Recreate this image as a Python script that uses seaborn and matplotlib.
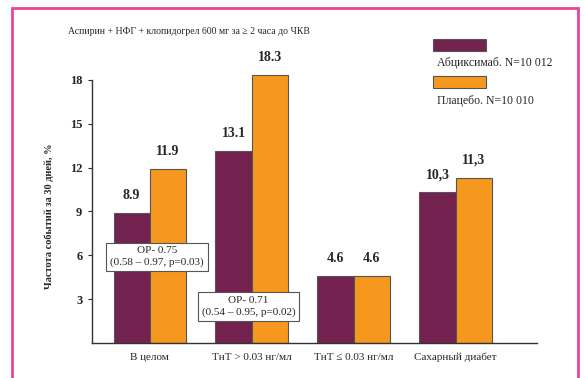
import matplotlib
matplotlib.use("Agg")
import matplotlib.pyplot as plt
import seaborn as sns
import pandas as pd
from matplotlib.patches import Rectangle

# data
categories = ["В целом", "ТнТ > 0.03 нг/мл", "ТнТ ≤ 0.03 нг/мл", "Сахарный диабет"]
abciximab = [8.9, 13.1, 4.6, 10.3]
placebo = [11.9, 18.3, 4.6, 11.3]
abciximab_labels = ["8.9", "13.1", "4.6", "10,3"]
placebo_labels = ["11.9", "18.3", "4.6", "11,3"]
series_names = ["Абциксимаб. N=10 012", "Плацебо. N=10 010"]
yticks = [3, 6, 9, 12, 15, 18]
or_texts = ["ОР- 0.75\n(0.58 – 0.97, p=0.03)", "ОР- 0.71\n(0.54 – 0.95, p=0.02)"]
title = "Аспирин + НФГ + клопидогрел 600 мг за ≥ 2 часа до ЧКВ"
ylabel = "Частота событий за 30 дней, %"

colors = ["#73224f", "#f7981e"]

df = pd.DataFrame({
    "cat": categories * 2,
    "val": abciximab + placebo,
    "grp": [series_names[0]] * 4 + [series_names[1]] * 4,
})

sns.set_style("white")
plt.rcParams["font.family"] = ["Liberation Serif", "DejaVu Serif"]

fig = plt.figure(figsize=(5.84, 3.78), dpi=100)
ax = fig.add_axes([0.1575, 0.0926, 0.762, 0.735])

sns.barplot(data=df, x="cat", y="val", hue="grp", palette=colors, saturation=1,
            width=0.71, gap=0, edgecolor="#555555", linewidth=0.8,
            legend=False, ax=ax, errorbar=None)

ax.set_xlim(-0.566, 3.797)
ax.set_ylim(0, 19.0)
ax.set_yticks(yticks)
ax.set_yticklabels([str(t) for t in yticks], fontsize=9, fontweight="bold")
ax.tick_params(axis="y", length=3, width=0.8, pad=4, direction="out", left=True)
ax.tick_params(axis="x", length=0, pad=7, labelsize=8)
ax.set_xlabel("")
ax.set_ylabel(ylabel, fontsize=7.5, fontweight="semibold")
ax.yaxis.set_label_coords(-0.085, 0.457)
for s in ["top", "right"]:
    ax.spines[s].set_visible(False)
ax.spines["left"].set_bounds(0, 18.0)
for s in ["left", "bottom"]:
    ax.spines[s].set_color("#333333")
    ax.spines[s].set_linewidth(1.0)

# value labels on bars
labels_by_hue = [abciximab_labels, placebo_labels]
for cont, labs in zip(ax.containers, labels_by_hue):
    ax.bar_label(cont, labels=labs, padding=8, fontsize=10, fontweight="bold")

# OR boxes
box = dict(boxstyle="square,pad=0.35", fc="white", ec="#555555", lw=0.8)
ax.text(0.07, 5.9, or_texts[0], ha="center", va="center", fontsize=8,
        bbox=box, linespacing=1.3)
ax.text(0.97, 2.5, or_texts[1], ha="center", va="center", fontsize=8,
        bbox=box, linespacing=1.3)

# title
fig.text(68 / 584, 1 - 32 / 378, title, fontsize=7, va="center", ha="left")

# legend drawn by hand: swatch above text
for i, name in enumerate(series_names):
    y_top = [39, 76][i]
    fig.patches.append(Rectangle((433 / 584, 1 - (y_top + 12) / 378), 53 / 584, 12 / 378,
                                 transform=fig.transFigure, fc=colors[i], ec="#555555",
                                 lw=0.8))
    fig.text(437 / 584, 1 - [63, 101][i] / 378, name, fontsize=8.5, va="center", ha="left")

# pink frame
fig.patches.append(Rectangle((12 / 584, -0.02), 566 / 584, 1 - 8 / 378 + 0.02,
                             transform=fig.transFigure, fill=False, ec="#e8459b", lw=2))

fig.savefig("out.png", dpi=100)
